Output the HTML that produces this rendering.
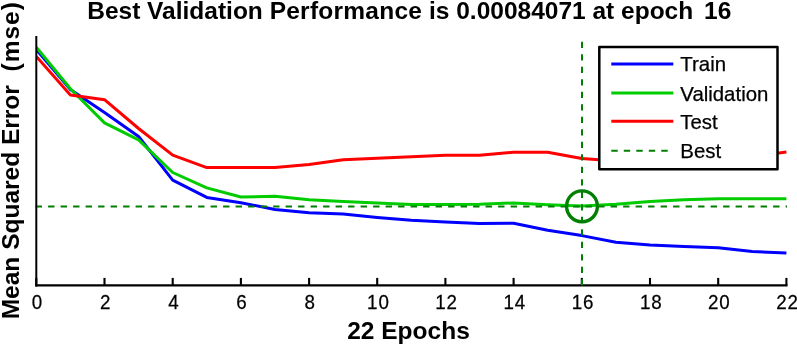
<!DOCTYPE html>
<html><head><meta charset="utf-8"><title>Performance</title>
<style>
html,body{margin:0;padding:0;background:#fff;}
body{width:797px;height:345px;overflow:hidden;}
svg{display:block;font-family:"Liberation Sans",Arial,Helvetica,sans-serif;}
.b{font-weight:bold;font-size:24.5px;fill:#000;}
.t{font-size:20.2px;fill:#000;stroke:#000;stroke-width:0.25px;}
</style></head><body>
<svg width="797" height="345" viewBox="0 0 797 345">
<rect width="797" height="345" fill="#fff"/>
<defs><clipPath id="pa"><rect x="36.3" y="30" width="750.8" height="256"/></clipPath></defs>
<text class="b" x="87.2" y="18.8">Best Validation <tspan style="letter-spacing:0.25px">Performance</tspan> is 0.00084071 at epoch<tspan dx="10.8">16</tspan></text>
<text class="b" x="408.5" y="338.9" text-anchor="middle">22 Epochs</text>
<text class="b" transform="translate(19.3,319.3) rotate(-90)" xml:space="preserve">Mean Squared Error  <tspan style="letter-spacing:1px">(mse)</tspan></text>
<g fill="none" stroke-width="3" stroke-linejoin="round" clip-path="url(#pa)">
<polyline stroke="#0000ff" points="36.3,49.5 70.4,89.6 104.5,112.5 138.6,136.5 172.7,180.1 206.8,197.4 240.9,202.7 275.0,209.5 309.1,212.8 343.2,214.1 377.2,217.4 411.3,220.2 445.4,222.0 479.5,223.5 513.6,223.3 547.7,230.2 581.8,235.6 615.9,242.3 650.0,245.1 684.1,246.6 718.2,247.7 752.3,251.6 786.4,253.0"/>
<polyline stroke="#00cc00" points="36.3,47.2 70.4,88.7 104.5,122.9 138.6,139.8 172.7,172.5 206.8,187.9 240.9,197.0 275.0,196.3 309.1,199.7 343.2,201.6 377.2,202.9 411.3,204.4 445.4,204.5 479.5,204.3 513.6,202.9 547.7,204.8 581.8,206.0 615.9,204.3 650.0,201.5 684.1,199.8 718.2,198.7 752.3,198.8 786.4,198.8"/>
<polyline stroke="#ff0000" points="36.3,56.4 70.4,95.0 104.5,99.7 138.6,128.5 172.7,155.1 206.8,167.6 240.9,167.6 275.0,167.6 309.1,164.6 343.2,159.8 377.2,158.2 411.3,156.7 445.4,155.2 479.5,155.2 513.6,152.3 547.7,152.3 581.8,158.6 615.9,161.0 650.0,160.0 684.1,159.0 718.2,158.0 752.3,156.6 786.4,152.1"/>
</g>
<g fill="none" stroke="#007f00" stroke-width="2" stroke-dasharray="6.4 6.1">
<line x1="35.6" y1="206.6" x2="787" y2="206.6"/>
</g>
<line x1="582" y1="285.6" x2="582" y2="36" stroke="#007f00" stroke-width="2" stroke-dasharray="6.4 6.1" fill="none"/>
<circle cx="582" cy="206.3" r="15.4" fill="none" stroke="#007f00" stroke-width="3.4"/>
<g stroke="#000" stroke-width="2.1" fill="none">
<line x1="36.3" y1="36" x2="36.3" y2="286.6" stroke-width="2"/>
<line x1="35.3" y1="285.45" x2="787.5" y2="285.45" stroke-width="2.3"/>
<line x1="36.3" y1="285.4" x2="36.3" y2="277.9"/><line x1="104.5" y1="285.4" x2="104.5" y2="277.9"/><line x1="172.7" y1="285.4" x2="172.7" y2="277.9"/><line x1="240.9" y1="285.4" x2="240.9" y2="277.9"/><line x1="309.1" y1="285.4" x2="309.1" y2="277.9"/><line x1="377.2" y1="285.4" x2="377.2" y2="277.9"/><line x1="445.4" y1="285.4" x2="445.4" y2="277.9"/><line x1="513.6" y1="285.4" x2="513.6" y2="277.9"/><line x1="581.8" y1="285.4" x2="581.8" y2="277.9"/><line x1="650.0" y1="285.4" x2="650.0" y2="277.9"/><line x1="718.2" y1="285.4" x2="718.2" y2="277.9"/><line x1="786.4" y1="285.4" x2="786.4" y2="277.9"/>
</g>
<line x1="582" y1="285.6" x2="582" y2="276" stroke="#007f00" stroke-width="2" stroke-dasharray="6.4 6.1"/>
<g class="t" text-anchor="middle"><text transform="translate(37.00,308.8) scale(0.93,1.035)">0</text><text transform="translate(105.19,308.8) scale(0.93,1.035)">2</text><text transform="translate(173.38,308.8) scale(0.93,1.035)">4</text><text transform="translate(241.57,308.8) scale(0.93,1.035)">6</text><text transform="translate(309.76,308.8) scale(0.93,1.035)">8</text><text transform="translate(378.40,308.8) scale(0.93,1.035)" style="letter-spacing:0.9px">10</text><text transform="translate(446.59,308.8) scale(0.93,1.035)" style="letter-spacing:0.9px">12</text><text transform="translate(514.78,308.8) scale(0.93,1.035)" style="letter-spacing:0.9px">14</text><text transform="translate(582.97,308.8) scale(0.93,1.035)" style="letter-spacing:0.9px">16</text><text transform="translate(651.16,308.8) scale(0.93,1.035)" style="letter-spacing:0.9px">18</text><text transform="translate(719.35,308.8) scale(0.93,1.035)" style="letter-spacing:0.9px">20</text><text transform="translate(787.54,308.8) scale(0.93,1.035)" style="letter-spacing:0.9px">22</text></g>
<rect x="599.3" y="47" width="178.2" height="122.3" fill="#fff" stroke="#000" stroke-width="2.5" stroke-linejoin="round"/>
<g fill="none" stroke-width="3">
<line x1="611.3" y1="63.9" x2="673.3" y2="63.9" stroke="#0000ff"/>
<line x1="611.3" y1="93.1" x2="673.3" y2="93.1" stroke="#00cc00"/>
<line x1="611.3" y1="121.3" x2="673.3" y2="121.3" stroke="#ff0000"/>
<line x1="611.3" y1="150.7" x2="673.3" y2="150.7" stroke="#007f00" stroke-width="2.1" stroke-dasharray="6.4 6.1"/>
</g>
<g class="t" style="font-size:20.4px">
<text x="680.3" y="71.4">Train</text>
<text x="680.3" y="100.8">Validation</text>
<text x="680.3" y="128.5">Test</text>
<text x="680.3" y="157.9">Best</text>
</g>
</svg>
</body></html>
